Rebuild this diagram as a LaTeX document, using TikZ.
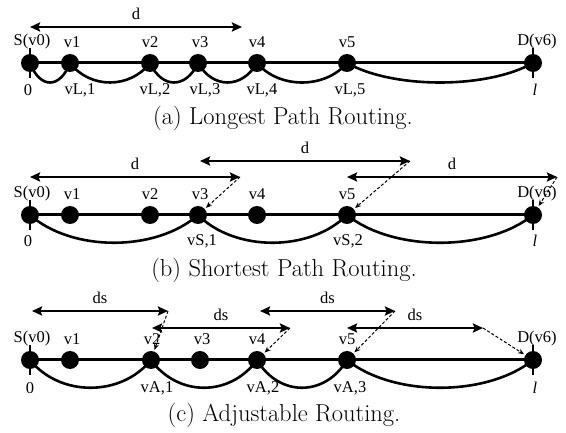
\documentclass[tikz,border=0pt]{standalone}
\usepackage{fontspec}
\newfontfamily\labfont{Liberation Serif}
\usetikzlibrary{arrows.meta}
\pgfdeclarelayer{background}
\pgfsetlayers{background,main}
\tikzset{
  vtx/.style={circle,fill=black,draw=none,minimum size=18pt,inner sep=0pt},
  lab/.style={font=\labfont\fontsize{16.5}{18}\selectfont,inner sep=0pt},
  captext/.style={font=\fontsize{24.5}{28}\selectfont,inner sep=0pt},
  mainline/.style={line width=3pt},
  arcline/.style={line width=2.6pt},
  tickline/.style={line width=2pt},
  dimarrow/.style={line width=2.5pt,{Stealth[length=10pt,width=9pt,inset=1.5pt]}-{Stealth[length=10pt,width=9pt,inset=1.5pt]}},
  dasharrow/.style={line width=1pt,dash pattern=on 3pt off 2pt,-{Stealth[length=6pt,width=5pt]},shorten >=1.5pt},
}
\begin{document}
\begin{tikzpicture}[x=1pt,y=-1pt]
\useasboundingbox (0,0) rectangle (566,433);
% ---------------- (a) ----------------
\begin{scope}[shift={(0,63)}]
\node[vtx] (a0) at (30,0) {};
\node[vtx] (a1) at (70,0) {};
\node[vtx] (a2) at (150,0) {};
\node[vtx] (a3) at (198,0) {};
\node[vtx] (a4) at (257,0) {};
\node[vtx] (a5) at (347,0) {};
\node[vtx] (a6) at (533,0) {};
\begin{pgfonlayer}{background}
\draw[mainline] (a0.center) -- (a6.center);
\draw[arcline] (a0.center) .. controls +(10,26) and +(-10,26) .. (a1.center);
\draw[arcline] (a1.center) .. controls +(20,26) and +(-20,26) .. (a2.center);
\draw[arcline] (a2.center) .. controls +(12,26) and +(-12,26) .. (a3.center);
\draw[arcline] (a3.center) .. controls +(15,26) and +(-15,26) .. (a4.center);
\draw[arcline] (a4.center) .. controls +(22,26) and +(-22,26) .. (a5.center);
\draw[arcline] (a5.center) .. controls +(46,26) and +(-46,26) .. (a6.center);
\draw[tickline] ([yshift=15pt]a0.center) -- ([yshift=-15pt]a0.center);
\draw[tickline] ([yshift=15pt]a6.center) -- ([yshift=-15pt]a6.center);
\end{pgfonlayer}
\node[lab] (a0t) at (32,-21) {S(v0)};
\node[lab] (a1t) at (72,-21) {v1};
\node[lab] (a2t) at (150,-21) {v2};
\node[lab] (a3t) at (200,-21) {v3};
\node[lab] (a4t) at (257,-21) {v4};
\node[lab] (a5t) at (347,-21) {v5};
\node[lab] (a6t) at (537,-21) {D(v6)};
\node[lab] (a0b) at (28,27) {0};
\node[lab] (a1b) at (80,27) {vL,1};
\node[lab] (a2b) at (155,27) {vL,2};
\node[lab] (a3b) at (205,27) {vL,3};
\node[lab] (a4b) at (262,27) {vL,4};
\node[lab] (a5b) at (350,27) {vL,5};
\node[lab] (a6b) at (535,27) {\textit{l}};
\coordinate (ad1s) at (30,-36);
\coordinate (ad1e) at (242,-36);
\draw[dimarrow] (ad1s) -- (ad1e) node[lab,midway,yshift=13pt] {d};
\node[captext] (acap) at (283,55) {(a) Longest Path Routing.};
\end{scope}
% ---------------- (b) ----------------
\begin{scope}[shift={(0,215)}]
\node[vtx] (b0) at (30,0) {};
\node[vtx] (b1) at (70,0) {};
\node[vtx] (b2) at (150,0) {};
\node[vtx] (b3) at (198,0) {};
\node[vtx] (b4) at (257,0) {};
\node[vtx] (b5) at (347,0) {};
\node[vtx] (b6) at (533,0) {};
\begin{pgfonlayer}{background}
\draw[mainline] (b0.center) -- (b6.center);
\draw[arcline] (b0.center) .. controls +(42,37) and +(-42,37) .. (b3.center);
\draw[arcline] (b3.center) .. controls +(37,37) and +(-37,37) .. (b5.center);
\draw[arcline] (b5.center) .. controls +(46,37) and +(-46,37) .. (b6.center);
\draw[tickline] ([yshift=15pt]b0.center) -- ([yshift=-15pt]b0.center);
\draw[tickline] ([yshift=15pt]b6.center) -- ([yshift=-15pt]b6.center);
\end{pgfonlayer}
\node[lab] (b0t) at (32,-21) {S(v0)};
\node[lab] (b1t) at (72,-21) {v1};
\node[lab] (b2t) at (150,-21) {v2};
\node[lab] (b3t) at (200,-21) {v3};
\node[lab] (b4t) at (257,-21) {v4};
\node[lab] (b5t) at (347,-21) {v5};
\node[lab] (b6t) at (537,-21) {D(v6)};
\node[lab] (b0b) at (28,26) {0};
\node[lab] (b3b) at (202,26) {vS,1};
\node[lab] (b5b) at (348,26) {vS,2};
\node[lab] (b6b) at (535,26) {\textit{l}};
\coordinate (bd1s) at (30,-38);
\coordinate (bd1e) at (240,-38);
\coordinate (bd2s) at (200,-54);
\coordinate (bd2e) at (410,-54);
\coordinate (bd3s) at (347,-38);
\coordinate (bd3e) at (557,-38);
\draw[dimarrow] (bd1s) -- (bd1e) node[lab,midway,yshift=13pt] {d};
\draw[dimarrow] (bd2s) -- (bd2e) node[lab,midway,yshift=13pt] {d};
\draw[dimarrow] (bd3s) -- (bd3e) node[lab,midway,yshift=13pt] {d};
\draw[dasharrow] (bd1e) -- (b3);
\draw[dasharrow] (bd2e) -- (b5);
\draw[dasharrow] (bd3e) -- (b6);
\node[captext] (bcap) at (284,55) {(b) Shortest Path Routing.};
\end{scope}
% ---------------- (c) ----------------
\begin{scope}[shift={(0,360)}]
\node[vtx] (c0) at (30,0) {};
\node[vtx] (c1) at (70,0) {};
\node[vtx] (c2) at (151,0) {};
\node[vtx] (c3) at (200,0) {};
\node[vtx] (c4) at (257,0) {};
\node[vtx] (c5) at (347,0) {};
\node[vtx] (c6) at (533,0) {};
\begin{pgfonlayer}{background}
\draw[mainline] (c0.center) -- (c6.center);
\draw[arcline] (c0.center) .. controls +(30,37) and +(-30,37) .. (c2.center);
\draw[arcline] (c2.center) .. controls +(27,37) and +(-27,37) .. (c4.center);
\draw[arcline] (c4.center) .. controls +(22,37) and +(-22,37) .. (c5.center);
\draw[arcline] (c5.center) .. controls +(46,37) and +(-46,37) .. (c6.center);
\draw[tickline] ([yshift=15pt]c0.center) -- ([yshift=-15pt]c0.center);
\draw[tickline] ([yshift=15pt]c6.center) -- ([yshift=-15pt]c6.center);
\end{pgfonlayer}
\node[lab] (c0t) at (32,-21) {S(v0)};
\node[lab] (c1t) at (72,-21) {v1};
\node[lab] (c2t) at (152,-21) {v2};
\node[lab] (c3t) at (202,-21) {v3};
\node[lab] (c4t) at (257,-21) {v4};
\node[lab] (c5t) at (347,-21) {v5};
\node[lab] (c6t) at (537,-21) {D(v6)};
\node[lab] (c0b) at (30,28) {0};
\node[lab] (c2b) at (157,28) {vA,1};
\node[lab] (c4b) at (263,28) {vA,2};
\node[lab] (c5b) at (350,28) {vA,3};
\node[lab] (c6b) at (535,28) {\textit{l}};
\coordinate (cd1s) at (32,-49);
\coordinate (cd1e) at (168,-49);
\coordinate (cd2s) at (152,-32);
\coordinate (cd2e) at (290,-32);
\coordinate (cd3s) at (260,-49);
\coordinate (cd3e) at (395,-49);
\coordinate (cd4s) at (347,-32);
\coordinate (cd4e) at (483,-32);
\draw[dimarrow] (cd1s) -- (cd1e) node[lab,midway,yshift=13pt] {ds};
\draw[dimarrow] (cd2s) -- (cd2e) node[lab,midway,yshift=13pt] {ds};
\draw[dimarrow] (cd3s) -- (cd3e) node[lab,midway,yshift=13pt] {ds};
\draw[dimarrow] (cd4s) -- (cd4e) node[lab,midway,yshift=13pt] {ds};
\draw[dasharrow] (cd1e) -- (c2);
\draw[dasharrow] (cd2e) -- (c4);
\draw[dasharrow] (cd3e) -- (c5);
\draw[dasharrow] (cd4e) -- (c6);
\node[captext] (ccap) at (284,55) {(c) Adjustable Routing.};
\end{scope}
\end{tikzpicture}
\end{document}
